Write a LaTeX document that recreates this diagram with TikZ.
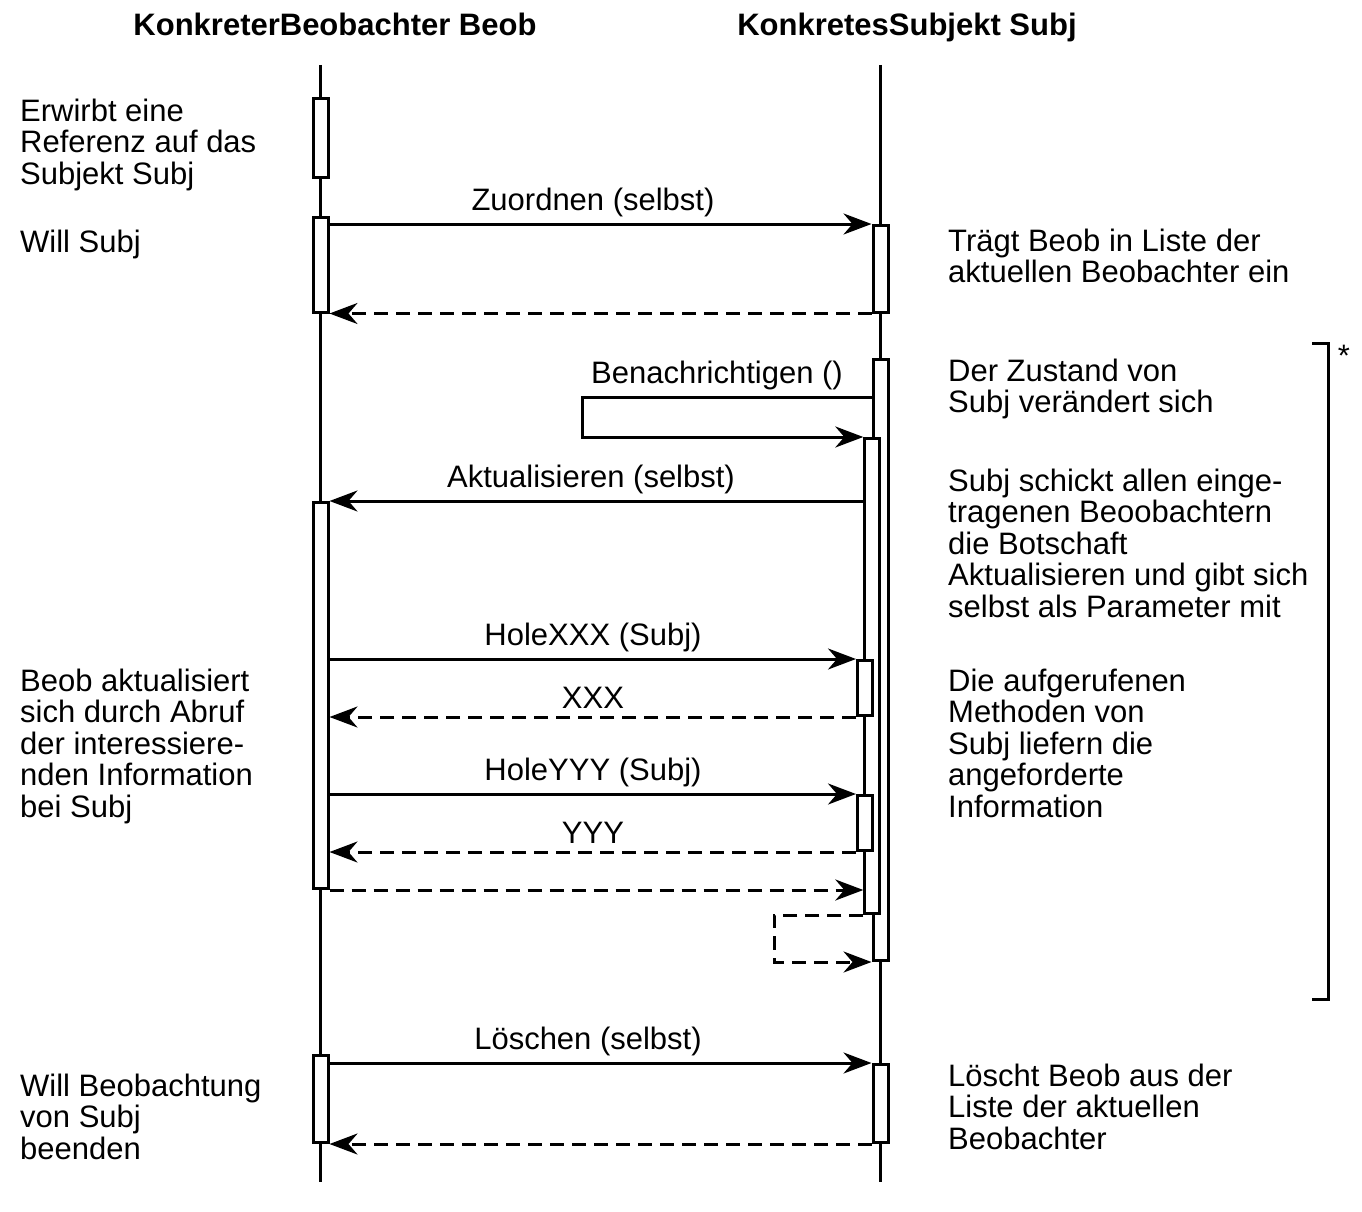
\documentclass[tikz,border=0pt]{standalone}
\usepackage{fontspec}
\setmainfont{Liberation Sans}
\usetikzlibrary{arrows.meta}
\tikzset{>={Stealth[length=28pt,width=21pt,inset=9pt]}}
\def\lw{3pt}
\tikzset{
  life/.style={line width=\lw},
  act/.style={draw, fill=white, line width=\lw, minimum width=15pt, inner sep=0pt, anchor=north},
  call/.style={->, line width=\lw},
  reply/.style={->, line width=\lw, dash pattern=on 14pt off 8pt},
  txt/.style={font=\fontsize{31}{31.5}\selectfont, align=left, anchor=base west, inner sep=0pt},
  lbl/.style={font=\fontsize{31}{31}\selectfont, anchor=base, inner sep=0pt},
  head/.style={font=\fontsize{31}{31}\selectfont\bfseries, anchor=base, inner sep=0pt}
}

\begin{document}
\begin{tikzpicture}[x=1pt, y=-1pt]
\useasboundingbox (0,0) rectangle (1362,1212);

% heads and lifelines
\node[head] (beob) at (335,36) {KonkreterBeobachter Beob};
\node[head] (subj) at (907,36) {KonkretesSubjekt Subj};
\draw[life] (320,65) -- (320,1182);
\draw[life] (880,65) -- (880,1182);

% activations
\node[act, minimum height=78pt] (b1) at (320.5,97.5) {};
\node[act, minimum height=95pt] (b2) at (320.5,215.5) {};
\node[act, minimum height=86.5pt] (s1) at (880.5,224) {};
\node[act, minimum height=601pt] (s2) at (880.5,358) {};
\node[act, minimum height=475pt] (s3) at (872.3,437) {};
\node[act, minimum height=386pt] (b3) at (320.5,501) {};
\node[act, minimum height=55pt] (s4) at (865,659) {};
\node[act, minimum height=55pt] (s5) at (865,794) {};
\node[act, minimum height=87pt] (b4) at (320.5,1054) {};
\node[act, minimum height=78pt] (s6) at (880.5,1063) {};

% messages
\draw[call] (b2.east |- s1.north) -- (s1.north west);
\draw[reply] (s1.south west) -- (b2.east |- s1.south);
\draw[call] ([yshift=-39pt]s2.north west) -- ++(-289,0) |- (s3.north west);
\draw[call] (s3.west |- b3.north) -- (b3.north east);
\draw[call] (b3.east |- s4.north) -- (s4.north west);
\draw[reply] (s4.south west) -- (b3.east |- s4.south);
\draw[call] (b3.east |- s5.north) -- (s5.north west);
\draw[reply] (s5.south west) -- (b3.east |- s5.south);
\draw[reply] (b3.south east) -- (s3.west |- b3.south);
\draw[reply] (s3.south west) -- ++(-89,0) |- (s2.south west);
\draw[call] (b4.east |- s6.north) -- (s6.north west);
\draw[reply] (s6.south west) -- (b4.east |- s6.south);

% message labels
\node[lbl] (zuordnen) at (593,210) {Zuordnen (selbst)};
\node[lbl] (benachr) at (717,383) {Benachrichtigen ()};
\node[lbl] (aktual) at (591,487) {Aktualisieren (selbst)};
\node[lbl] (holex) at (593,645) {HoleXXX (Subj)};
\node[lbl] (xxx) at (593,708) {XXX};
\node[lbl] (holey) at (593,780) {HoleYYY (Subj)};
\node[lbl] (yyy) at (593,843) {YYY};
\node[lbl] (loeschen) at (588,1049) {Löschen (selbst)};

% left notes (base = last line)
\node[txt] (n1) at (20,184) {Erwirbt eine\\Referenz auf das\\Subjekt Subj};
\node[txt] (n2) at (20,252) {Will Subj};
\node[txt] (n3) at (20,817) {Beob aktualisiert\\sich durch Abruf\\der interessiere-\\nden Information\\bei Subj};
\node[txt] (n4) at (20,1159) {Will Beobachtung\\von Subj\\beenden};

% right notes
\node[txt] (r1) at (948,282.5) {Trägt Beob in Liste der\\aktuellen Beobachter ein};
\node[txt] (r2) at (948,412.5) {Der Zustand von\\Subj verändert sich};
\node[txt] (r3) at (948,617) {Subj schickt allen einge-\\tragenen Beoobachtern\\die Botschaft\\Aktualisieren und gibt sich\\selbst als Parameter mit};
\node[txt] (r4) at (948,817) {Die aufgerufenen\\Methoden von\\Subj liefern die\\angeforderte\\Information};
\node[txt] (r5) at (948,1149) {Löscht Beob aus der\\Liste der aktuellen\\Beobachter};

% repeat bracket
\draw[life] (1312,343) -- (1328,343) -- (1328,999) -- (1312,999);
\node[lbl] (rep) at (1344,366) {*};

\end{tikzpicture}
\end{document}
